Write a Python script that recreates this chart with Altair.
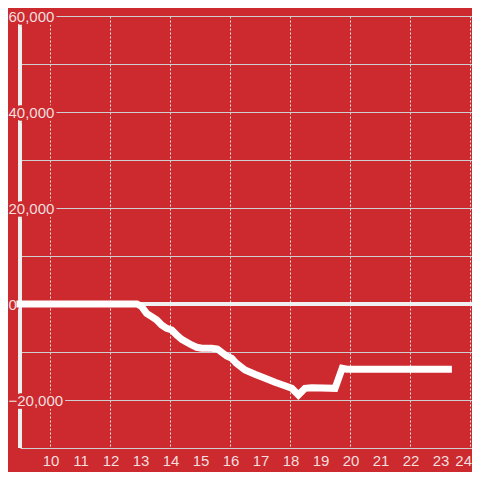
import altair as alt
import pandas as pd

# Data
hours = [9.0, 12.9, 13.05, 13.22, 13.39, 13.56, 13.72, 13.89, 14.06, 14.22, 14.39,
         14.56, 14.72, 14.89, 15.06, 15.39, 15.58, 15.72, 15.89, 16.06, 16.2, 16.5,
         16.83, 17.17, 17.5, 17.83, 18.06, 18.28, 18.5, 18.72, 19.5, 19.74, 19.9, 23.28]
values = [0, 0, -500, -1950, -2640, -3330, -4380, -5070, -5420, -6460, -7360,
          -7980, -8540, -9020, -9230, -9230, -9380, -10060, -10830, -11310, -12290, -13750,
          -14650, -15480, -16310, -17020, -17570, -18960, -17570, -17430, -17570, -13400, -13600, -13600]

x_ticks = list(range(10, 25))
y_grid = list(range(-30000, 60001, 10000))
y_labels = [60000, 40000, 20000, 0, -20000]

BG = "#cc2a2f"
LABEL = "#f3dfdf"
AXIS = "#f0f0f0"
FONT = "Liberation Sans"

X_DOMAIN = [9, 24.0667]
Y_DOMAIN = [-30000, 60000]
PLOT_W, PLOT_H = 452, 432

line_df = pd.DataFrame({"hour": hours, "value": values})
ylab_df = pd.DataFrame({"v": y_labels})
xlab_df = pd.DataFrame({"t": x_ticks})

xs = alt.Scale(domain=X_DOMAIN, nice=False, zero=False)
ys = alt.Scale(domain=Y_DOMAIN, nice=False, zero=False)

base = alt.Chart(line_df)

line = base.mark_line(color="white", strokeWidth=7, strokeCap="square", strokeJoin="miter").encode(
    x=alt.X("hour:Q", scale=xs,
            axis=alt.Axis(values=x_ticks, grid=True, gridDash=[2, 2], gridColor="#e6e6e6",
                          gridWidth=1, domain=False, ticks=False, labels=False, title=None)),
    y=alt.Y("value:Q", scale=ys,
            axis=alt.Axis(values=y_grid, grid=True, gridColor="#cfcfcf", gridWidth=1,
                          domain=False, ticks=False, labels=False, title=None)),
)

yaxis_rule = base.mark_rule(color=AXIS, strokeWidth=3).encode(
    x=alt.datum(X_DOMAIN[0]), y=alt.datum(Y_DOMAIN[1]), y2=alt.datum(Y_DOMAIN[0])
)
zero_rule = base.mark_rule(color=AXIS, strokeWidth=3).encode(
    x=alt.datum(X_DOMAIN[0]), x2=alt.datum(X_DOMAIN[1]), y=alt.datum(0)
)

def ylabels(halo):
    kw = dict(font=FONT, fontSize=15, align="left", baseline="middle", dy=1)
    if halo:
        m = alt.Chart(ylab_df).mark_text(fill=BG, stroke=BG, strokeWidth=5.5, **kw)
    else:
        m = alt.Chart(ylab_df).mark_text(fill=LABEL, **kw)
    return m.encode(
        x=alt.value(-11.5),
        y=alt.Y("v:Q", scale=ys),
        text=alt.Text("v:Q", format=","),
    )

xlab_kw = dict(font=FONT, fontSize=15, baseline="top", color=LABEL)
xlabels_mid = alt.Chart(xlab_df).transform_filter("datum.t < 24").mark_text(
    align="center", dx=1, **xlab_kw
).encode(x=alt.X("t:Q", scale=xs), y=alt.value(PLOT_H + 6), text=alt.Text("t:Q"))
xlabels_end = alt.Chart(xlab_df).transform_filter("datum.t == 24").mark_text(
    align="right", dx=2, **xlab_kw
).encode(x=alt.X("t:Q", scale=xs), y=alt.value(PLOT_H + 6), text=alt.Text("t:Q"))

chart = alt.layer(
    yaxis_rule, zero_rule,
    ylabels(True), ylabels(False),
    xlabels_mid, xlabels_end,
    line,
).properties(
    width=PLOT_W, height=PLOT_H,
    background=BG,
    padding={"left": 12, "top": 8, "right": 0, "bottom": 24},
    autosize=alt.AutoSizeParams(type="none"),
).configure_view(stroke=None)

chart.save("out.html", embed_options={"renderer": "svg", "actions": False})
